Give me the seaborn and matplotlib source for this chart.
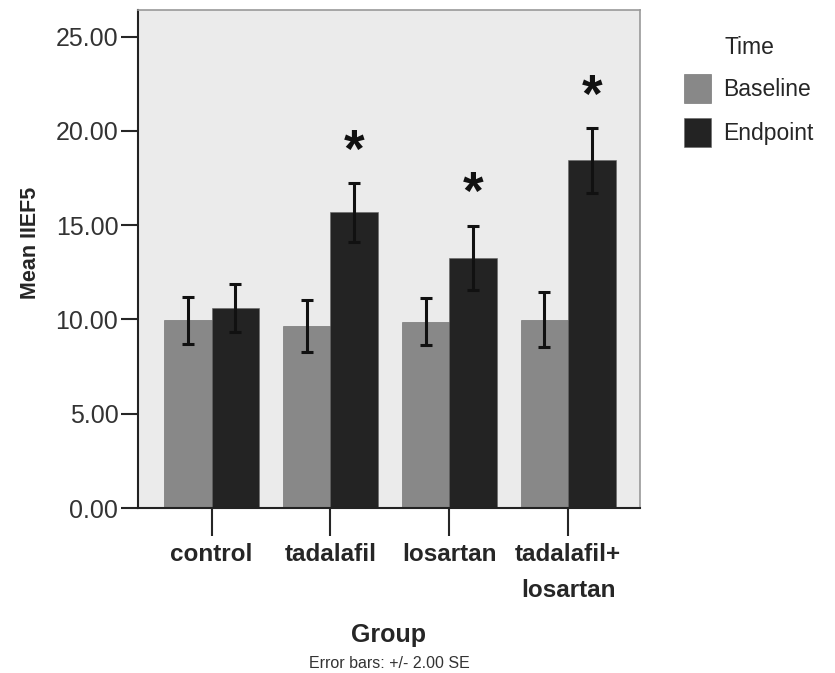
import matplotlib
matplotlib.use("Agg")
import matplotlib.pyplot as plt
import numpy as np
import pandas as pd
import seaborn as sns


groups = ["control", "tadalafil", "losartan", "tadalafil+\nlosartan"]
times = ["Baseline", "Endpoint"]
baseline_mean = [9.96, 9.66, 9.89, 9.99]
endpoint_mean = [10.61, 15.69, 13.26, 18.43]
baseline_err = [1.24, 1.36, 1.24, 1.47]   # 2 SE
endpoint_err = [1.28, 1.56, 1.72, 1.73]
significant = [False, True, True, True]

if __name__ == "__main__":
    data = pd.DataFrame({
        "Group": groups * 2,
        "Time": [times[0]] * 4 + [times[1]] * 4,
        "value": baseline_mean + endpoint_mean,
    })

    sns.set_style("white")
    plt.rcParams["font.family"] = ["Liberation Sans", "DejaVu Sans"]

    fig = plt.figure(figsize=(8.35, 6.73), dpi=100)
    ax = fig.add_axes([0.165, 0.245, 0.601, 0.740])
    ax.set_facecolor("#ebebeb")

    sns.barplot(data, x="Group", y="value", hue="Time", ax=ax,
                palette=["#888888", "#232323"], errorbar=None,
                width=0.8, edgecolor="#666666", linewidth=0.4, saturation=1)

    # error bars (+/- 2 SE) and significance stars at the library's bar positions
    errs = [baseline_err, endpoint_err]
    bar_containers = list(ax.containers)[:2]
    for k, container in enumerate(bar_containers):
        xs = [b.get_x() + b.get_width() / 2 for b in container]
        hs = [b.get_height() for b in container]
        ax.errorbar(xs, hs, yerr=errs[k], fmt="none", ecolor="#111111",
                    elinewidth=2.2, capsize=4.5, capthick=2.2, zorder=5)
        if k == 1:
            for x, h, e, s in zip(xs, hs, errs[k], significant):
                if s:
                    ax.text(x, h + e + 1.6, "*", ha="center", va="center",
                            fontsize=38, fontweight="bold", color="#111111")

    # axes
    ax.set_xlim(-0.62, 3.6)
    ax.set_ylim(0, 26.4)
    ax.set_yticks(np.arange(0, 26, 5))
    ax.set_yticklabels([f"{v:.2f}" for v in np.arange(0, 26, 5)])
    ax.tick_params(axis="y", left=True, length=12, width=1.5, labelsize=18,
                   labelcolor="#333333", pad=2)
    ax.tick_params(axis="x", bottom=True, length=20, width=1.5, labelsize=17.5,
                   pad=5)
    for lab in ax.get_xticklabels():
        lab.set_fontweight("bold")
        lab.set_linespacing(1.75)
    for side in ["left", "bottom"]:
        ax.spines[side].set_color("#222222")
        ax.spines[side].set_linewidth(1.5)
    for side in ["top", "right"]:
        ax.spines[side].set_color("#999999")
        ax.spines[side].set_linewidth(1.2)

    ax.set_ylabel("Mean IIEF5", fontsize=15.5, fontweight="bold")
    ax.yaxis.set_label_coords(-0.192, 0.532)
    ax.set_xlabel("Group", fontsize=18, fontweight="bold", labelpad=15)

    leg = ax.legend(title="Time", loc="upper left", bbox_to_anchor=(1.047, 0.99),
                    frameon=False, fontsize=16.5, title_fontsize=16.5,
                    handlelength=1.2, handleheight=1.6, handletextpad=0.5,
                    labelspacing=0.65)
    leg._legend_box.align = "left"
    leg.get_title().set_position((41, 0))

    fig.text(0.466, 0.008, "Error bars: +/- 2.00 SE", ha="center",
             fontsize=11.5, color="#333333")

    fig.savefig("out.png", dpi=100)
